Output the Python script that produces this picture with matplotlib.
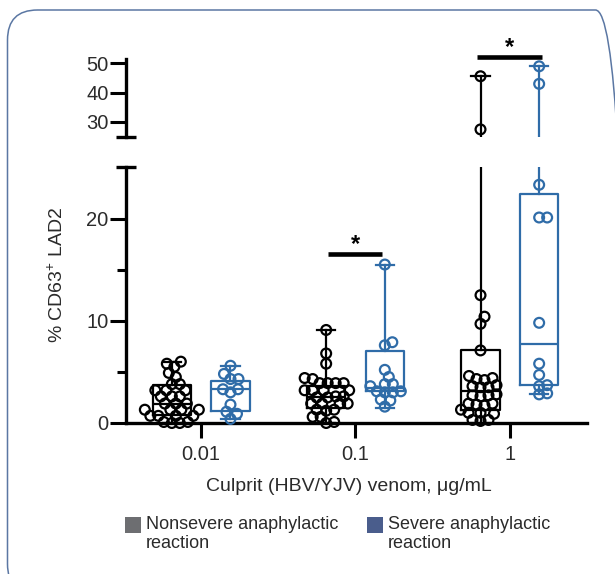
import matplotlib
matplotlib.use("Agg")
import matplotlib.pyplot as plt
import matplotlib.transforms as mtransforms
from matplotlib.patches import FancyBboxPatch, Rectangle
import numpy as np

plt.rcParams['font.family'] = ['Liberation Sans', 'DejaVu Sans']
plt.rcParams['mathtext.fontset'] = 'custom'
plt.rcParams['mathtext.rm'] = 'Liberation Sans'

# --- data ---
doses = ['0.01', '0.1', '1']

nonsevere_pts = [
    [6.0, 5.8, 5.5, 4.9, 4.5, 3.8, 3.8, 3.2, 3.2, 3.2, 2.6, 2.6, 2.6, 1.9,
     1.9, 1.9, 1.3, 1.3, 1.3, 1.3, 0.7, 0.7, 0.7, 0.7, 0.1, 0.0, 0.0, 0.1],
    [9.1, 6.8, 5.8, 4.4, 4.3, 3.9, 3.9, 3.9, 3.9, 3.2, 3.2, 3.2, 3.2, 2.6,
     2.5, 2.6, 2.5, 1.9, 1.9, 1.9, 1.9, 1.3, 1.3, 1.2, 0.6, 0.6, 0.1, 0.0],
    [45.6, 27.4, 12.5, 10.4, 9.7, 7.1, 4.6, 4.4, 4.3, 4.2, 3.7, 3.6, 3.5,
     3.5, 2.8, 2.7, 2.6, 2.7, 1.9, 1.8, 1.7, 1.9, 1.3, 1.0, 0.9, 1.0, 0.3,
     0.2, 0.3],
]
severe_pts = [
    [5.6, 4.8, 4.3, 4.3, 3.3, 3.3, 3.0, 1.8, 1.1, 0.9, 0.4],
    [15.5, 7.9, 7.6, 5.2, 4.5, 3.8, 3.6, 3.8, 3.1, 3.0, 3.0, 3.1, 2.2, 2.3, 1.6],
    [49.0, 43.0, 23.3, 20.1, 20.1, 9.8, 5.8, 4.7, 3.7, 3.6, 2.9, 2.8],
]

# box stats: min, q1, median, q3, max
nonsevere_box = [
    [0.0, 0.8, 1.9, 3.7, 6.0],
    [0.0, 1.5, 2.5, 3.6, 9.1],
    [0.0, 1.3, 3.1, 7.1, 45.6],
]
severe_box = [
    [0.4, 1.2, 3.3, 4.1, 5.6],
    [1.5, 3.1, 3.4, 7.0, 15.5],
    [2.8, 3.7, 7.7, 22.4, 49.0],
]

# --- style ---
BLACK = '#000000'
BLUE = '#2f6ca8'
TXT = '#2b2b2b'
W, H = 615, 574
offset = 0.19
box_w = 0.25

fig = plt.figure(figsize=(W / 100, H / 100), dpi=100)
L, R = 126, 587
lo_top, lo_bot = 167.4, 423
hi_top, hi_bot = 59.3, 137.3
ax_lo = fig.add_axes([L / W, 1 - lo_bot / H, (R - L) / W, (lo_bot - lo_top) / H])
ax_hi = fig.add_axes([L / W, 1 - hi_bot / H, (R - L) / W, (hi_bot - hi_top) / H])

lo_lim = (0, 25)
hi_lim = (24.7, 51.4)
xlim = (-0.487, 2.5)
ax_lo.set_ylim(*lo_lim)
ax_hi.set_ylim(*hi_lim)
for ax in (ax_lo, ax_hi):
    ax.set_xlim(*xlim)
    ax.set_facecolor('none')

px_per_x = (R - L) / (xlim[1] - xlim[0])
px_per_y = (lo_bot - lo_top) / (lo_lim[1] - lo_lim[0])


def swarm(vals, min_d=8.0):
    # simple beeswarm in pixel space
    vals = np.asarray(vals, float)
    order = np.argsort(vals)
    placed = []
    offs = np.zeros(len(vals))
    for i in order:
        y = vals[i] * px_per_y
        k = 0
        while True:
            cands = [0.0] if k == 0 else [k * 0.5, -k * 0.5]
            hit = None
            for c in cands:
                if all((c - px) ** 2 + (y - py) ** 2 >= min_d ** 2 for px, py in placed):
                    hit = c
                    break
            if hit is not None:
                offs[i] = hit
                placed.append((hit, y))
                break
            k += 1
    return offs / px_per_x


def stats(b):
    return dict(whislo=b[0], q1=b[1], med=b[2], q3=b[3], whishi=b[4], fliers=[])


for sets, boxes, col, sgn in [(nonsevere_pts, nonsevere_box, BLACK, -1),
                               (severe_pts, severe_box, BLUE, 1)]:
    pos = [g + sgn * offset for g in range(len(doses))]
    lp = dict(color=col, linewidth=1.6)
    for ax in (ax_lo, ax_hi):
        ax.bxp([stats(b) for b in boxes], positions=pos, widths=box_w,
               capwidths=0.12, showfliers=False, manage_ticks=False,
               boxprops=lp, whiskerprops=lp, capprops=lp,
               medianprops=dict(color=col, linewidth=1.6))
    for g, vals in enumerate(sets):
        vals = np.asarray(vals, float)
        low = vals <= 25
        xs = np.full(len(vals), pos[g])
        xs[low] += swarm(vals[low])
        ax_lo.scatter(xs[low], vals[low], s=50, facecolors='none', edgecolors=col,
                      linewidths=1.6, clip_on=False, zorder=3)
        if (~low).any():
            ax_hi.scatter(xs[~low], vals[~low], s=50, facecolors='none',
                          edgecolors=col, linewidths=1.6, clip_on=False, zorder=3)

# axes styling
for ax in (ax_lo, ax_hi):
    for s in ('top', 'right'):
        ax.spines[s].set_visible(False)
    ax.spines['left'].set_linewidth(2.4)
    ax.tick_params(axis='y', length=11.5, width=2.2, pad=1, labelsize=14.5,
                   labelcolor=TXT)
ax_hi.spines['bottom'].set_visible(False)
ax_hi.set_xticks([])
ax_hi.set_yticks([30, 40, 50])
ax_lo.spines['bottom'].set_linewidth(2.4)
ax_lo.set_yticks([0, 10, 20])
ax_lo.set_yticks([5, 15], minor=True)
ax_lo.tick_params(axis='y', which='minor', length=6.5, width=2.2)
ax_lo.set_xticks(range(len(doses)))
ax_lo.set_xticklabels(doses)
ax_lo.tick_params(axis='x', length=11, width=2.2, pad=5, labelsize=14.5,
                  labelcolor=TXT)

# axis break caps
c = 10 / (R - L)
for ax, yv in ((ax_lo, lo_lim[1]), (ax_hi, hi_lim[0])):
    tr = mtransforms.blended_transform_factory(ax.transAxes, ax.transData)
    ax.plot([-c, c], [yv, yv], transform=tr, color=BLACK, lw=2.4,
            solid_capstyle='butt', clip_on=False)

ax_lo.set_ylabel('% CD63$^{+}$ LAD2', fontsize=14, color=TXT)
ax_lo.yaxis.set_label_coords(-0.128, 0.58)
ax_lo.set_xlabel('Culprit (HBV/YJV) venom, \u03bcg/mL', fontsize=14, color=TXT)
ax_lo.xaxis.set_label_coords(0.484, -0.215)

# significance bars
ax_lo.plot([1 - 0.18, 1 + 0.17], [16.5, 16.5], color=BLACK, lw=3.3,
           solid_capstyle='butt')
ax_lo.text(1.0, 16.3, '*', ha='center', va='bottom', fontsize=17,
           fontweight='bold', color=BLACK)
ax_hi.plot([2 - 0.21, 2 + 0.21], [52.2, 52.2], color=BLACK, lw=3.3,
           solid_capstyle='butt', clip_on=False)
ax_hi.text(2.0, 51.6, '*', ha='center', va='bottom', fontsize=17,
           fontweight='bold', color=BLACK, clip_on=False)

# legend
for x0, col, lab in ((125, '#6d6e71', 'Nonsevere anaphylactic\nreaction'),
                     (367, '#4a5d8c', 'Severe anaphylactic\nreaction')):
    fig.add_artist(Rectangle((x0 / W, 1 - 533 / H), 16 / W, 16 / H,
                             transform=fig.transFigure, color=col, lw=0))
    fig.text((x0 + 21) / W, 1 - 516 / H, lab, va='top', ha='left',
             fontsize=13, color=TXT, linespacing=1.15)

# rounded frame (runs off the right and bottom edge)
frame = FancyBboxPatch((7.5, -20), 618, 584, boxstyle='round,pad=0,rounding_size=30',
                       transform=mtransforms.IdentityTransform(),
                       facecolor='none', edgecolor='#5b77a3', lw=1.1)
fig.add_artist(frame)

fig.savefig('out.png', dpi=100)
